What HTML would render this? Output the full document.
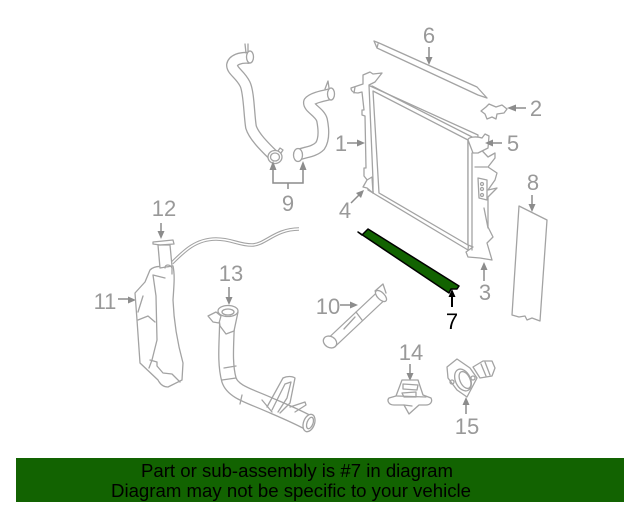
<!DOCTYPE html>
<html><head><meta charset="utf-8"><style>
html,body{margin:0;padding:0;background:#fff;width:640px;height:512px;overflow:hidden}
svg{display:block}
text{font-family:"Liberation Sans",sans-serif}
.l{fill:#999;font-size:22px;text-anchor:middle}
.g{fill:none;stroke:#a3a3a3;stroke-width:1.3;stroke-linejoin:round;stroke-linecap:round}
.f{fill:#fff;stroke:#a3a3a3;stroke-width:1.3;stroke-linejoin:round;stroke-linecap:round}
.a{fill:none;stroke:#8c8c8c;stroke-width:1.5}
.h{fill:#8c8c8c}
.ho{fill:none;stroke:#a3a3a3;stroke-linejoin:round;stroke-linecap:butt}
.hi{fill:none;stroke:#fff;stroke-linejoin:round;stroke-linecap:butt}
</style></head><body>
<svg width="640" height="512" viewBox="0 0 640 512" xmlns="http://www.w3.org/2000/svg">
<rect width="640" height="512" fill="#fff"/>

<!-- hoses 9 -->
<path class="ho" stroke-width="12" d="M250 58C240 57 233 60 232 65C232 71 240 74 245 84C249 92 249 115 251 127C254 137 267 149 275 157"/>
<path class="hi" stroke-width="9.4" d="M250 58C240 57 233 60 232 65C232 71 240 74 245 84C249 92 249 115 251 127C254 137 267 149 275 157"/>
<path class="g" d="M245 44L246 53M248 44L248 52"/>
<ellipse class="f" cx="250" cy="57" rx="3.5" ry="6"/>
<ellipse class="f" cx="275" cy="157" rx="7" ry="6.5"/>
<ellipse class="g" cx="275" cy="157" rx="4.5" ry="4"/>
<path class="g" d="M278 151L280 148L283 150L281 153"/>
<path class="ho" stroke-width="12" d="M331 94C322 96 312 98 309 102C308 108 320 112 322 120C324 130 324 140 320 146C314 152 305 152 298 155"/>
<path class="hi" stroke-width="9.4" d="M331 94C322 96 312 98 309 102C308 108 320 112 322 120C324 130 324 140 320 146C314 152 305 152 298 155"/>
<path class="g" d="M325 89L328 81L329 88"/>
<ellipse class="f" cx="331" cy="94" rx="3.5" ry="6"/>
<ellipse class="f" cx="298" cy="155" rx="4.5" ry="6.5"/>
<path class="a" d="M273 168V183H303V168M288 183V189"/>
<path class="h" d="M273 161L276.5 170H269.5ZM303 161L306.5 170H299.5Z"/>
<text class="l" x="288" y="211">9</text>

<!-- strip 6 -->
<path class="g" d="M374 41L379 43L477 87L487 98M374 41L377 48L478 95L487 98M378 44L377 48"/>
<path class="a" d="M429 47V60"/><path class="h" d="M429 65L425.5 57H432.5Z"/>
<text class="l" x="429" y="43">6</text>

<!-- radiator -->
<path class="f" d="M368 85L478 135L468 250L373 193Z"/>
<path class="g" d="M372 86L478 140M373 91L468 140L468 245L379 193Z"/>
<path class="g" d="M368 85L373 193"/>
<path class="f" d="M351 88C351 92 355 93 358 93L362 92L364 110H362V115L365 116L366 168L364 168V176L368 181V190L373 193L373 180L369 85L375 82L382 73L373 74L370 72L363 75L363 84Z"/>
<path class="g" d="M355 87L354 93"/>
<path class="f" d="M363 187L367 180L372 177L373 193L367 188Z"/>
<path class="f" d="M468 140L472 140L488 157L495 153L495 158L488 167L497 173L495 180L488 190L497 188L488 197V227L493 237L487 243L492 260L480 258L468 257L466 252L473 247L468 245Z"/>
<path class="f" d="M468 140C468 137 476 136 482 138L485 134L489 136L488 148L484 150L478 153L473 153Z"/>
<path class="f" d="M478 178L487 180L487 200L479 198Z"/>
<circle class="g" cx="482" cy="184" r="1.500"/><circle class="g" cx="482" cy="189" r="1.500"/><circle class="g" cx="482" cy="195" r="1.500"/>
<path class="g" d="M472 153V250M475 167H487M484 208L488 228"/>

<!-- green strip 7 -->
<path d="M358 232L362 235L368 229L459 286L457 289L451 289L449 293Z" fill="#126301" stroke="#000" stroke-width="1.500" stroke-linejoin="round"/>
<path d="M452 293V307" stroke="#000" stroke-width="2" fill="none"/>
<path d="M452 289L455.500 297H448.500Z" fill="#000"/>
<text x="452" y="329" font-size="22" fill="#000" text-anchor="middle">7</text>

<!-- bracket 2 -->
<path class="f" d="M481 111L486 107L489 104L496 107L502 105L507 109L504 113L497 114L496 119L492 117L487 119L485 114Z"/>
<path class="a" d="M514 108H526"/><path class="h" d="M507 108L516 104.500V111.500Z"/>
<text class="l" x="536" y="116">2</text>

<!-- 1,3,4,5,8 labels -->
<text class="l" x="341" y="151">1</text>
<path class="a" d="M347 143H360"/><path class="h" d="M365 143L357 139.500V146.500Z"/>
<text class="l" x="345" y="218">4</text>
<path class="a" d="M351 203L361 193"/><path class="h" d="M364 190L361 198L356 193Z"/>
<text class="l" x="485" y="300">3</text>
<path class="a" d="M484 281V268"/><path class="h" d="M484 262L487.500 270H480.500Z"/>
<text class="l" x="513" y="151">5</text>
<path class="a" d="M502 143H491"/><path class="h" d="M485 143L493 139.500V146.500Z"/>
<text class="l" x="533" y="190">8</text>
<path class="a" d="M532 195V206"/><path class="h" d="M532 212L528.500 204H535.500Z"/>

<!-- panel 8 -->
<path class="f" d="M519 206L547 220L540 321L532 318L527 320L525 316L519 317L512 315Z"/>

<!-- 12, 11 reservoir -->
<text class="l" x="164" y="216">12</text>
<path class="a" d="M161 223V234"/><path class="h" d="M161 239L157.500 231H164.500Z"/>
<text class="l" x="105" y="309">11</text>
<path class="a" d="M118 299H131"/><path class="h" d="M136 300L128 296.500V303.500Z"/>
<path class="ho" stroke-width="3.600" d="M172 263C184 251 196 239 216 239C232 239 238 245 252 245C265 245 275 229 299 229"/>
<path class="hi" stroke-width="1.400" d="M172 263C184 251 196 239 216 239C232 239 238 245 252 245C265 245 275 229 299 229"/>
<path class="f" d="M135 293L145 282L150 270C154 266 160 266 165 267L173 266C175 275 174 285 173 300C174 325 178 345 183 363L182 380L168 387C163 387 160 384 158 380L140 363L137 320Z"/>
<path class="f" d="M158 245L170 245L172 266L160 268Z"/>
<path class="g" d="M153 242L173 240L174 244L160 245L153 244ZM165 268C165 264 170 264 172 268L172 274M153 275L156 296L157 340L152 360L149 368M150 360L157 362L157 366L163 373L172 374L180 382M138 320L148 316L155 322M153 275L165 278M143 296L138 312"/>

<!-- 13 pipe -->
<text class="l" x="231" y="281">13</text>
<path class="a" d="M229 287V300"/><path class="h" d="M229 305L225.500 297H232.500Z"/>
<path class="ho" stroke-width="16" d="M227 320C227 340 224 362 229 380C233 392 250 396 270 405C284 411 296 416 309 423"/>
<path class="hi" stroke-width="13.400" d="M227 320C227 340 224 362 229 380C233 392 250 396 270 405C284 411 296 416 309 423"/>
<path class="f" d="M218 312L220 326L226 334L234 331L238 312Z"/>
<ellipse class="f" cx="228" cy="311" rx="10" ry="5.500"/>
<ellipse class="g" cx="228" cy="312" rx="6" ry="3"/>
<path class="f" d="M208 316L216 312L221 316L219 323L213 322Z"/>
<path class="g" d="M224 368L236 366M242 395L240 404M262 400L272 412M222 380L236 378"/>
<path class="g" d="M267 407L283 378C287 376 292 376 295 378L290 403L280 413M272 410L285 384L291 382L287 398L278 412"/>
<path class="g" d="M290 407L305 402L306 405L295 412"/>
<ellipse class="f" cx="309" cy="423" rx="5.500" ry="9" transform="rotate(20 309 423)"/>
<ellipse class="g" cx="310" cy="423" rx="3" ry="6" transform="rotate(20 310 423)"/>

<!-- 10 tube -->
<text class="l" x="328" y="314">10</text>
<path class="a" d="M340 305H352"/><path class="h" d="M358 305L350 301.500V308.500Z"/>
<path class="ho" stroke-width="12" d="M331 343L381 296"/>
<path class="hi" stroke-width="9.600" d="M331 343L381 296"/>
<ellipse class="f" cx="381" cy="296" rx="3.500" ry="7" transform="rotate(-135 381 296) rotate(90 381 296)"/>
<path class="g" d="M375 291L383 284L386 293M356 312L362 320M355 317L344 329"/>
<ellipse class="f" cx="330" cy="342" rx="7" ry="5.500" transform="rotate(30 330 342)"/>

<!-- 14 clip -->
<text class="l" x="411" y="360">14</text>
<path class="a" d="M410 364V376"/><path class="h" d="M410 381L406.500 373H413.500Z"/>
<path class="f" d="M402 380L418 380L423 395L431 398C433 402 430 405 426 405L419 405L409 414L404 405L394 405C388 405 387 400 389 398L396 396Z"/>
<path class="g" d="M403 384L418 385L417 390L403 389ZM402 393L416 392L416 397L404 397ZM397 396L426 397M404 405L412 406"/>

<!-- 15 housing -->
<text class="l" x="467" y="434">15</text>
<path class="a" d="M466 414V402"/><path class="h" d="M466 397L469.500 405H462.500Z"/>
<path class="f" d="M473 367L483 361H492L495 368L492 376L480 378Z"/>
<path class="g" d="M481 364L486 376M485 362L490 375"/>
<path class="f" d="M447 367L457 359L470 368L477 378L467 397L457 390L448 378Z"/>
<ellipse class="g" cx="463" cy="380" rx="7.500" ry="11.500" transform="rotate(-25 463 380)"/>
<ellipse class="g" cx="465" cy="380" rx="5" ry="9" transform="rotate(-25 465 380)"/>
<circle class="g" cx="452" cy="382" r="2"/><circle class="g" cx="473" cy="378" r="2"/>

<!-- banner -->
<rect x="16" y="458" width="608" height="44" fill="#126301"/>
<text x="141" y="477" font-size="18" fill="#000" textLength="312" lengthAdjust="spacingAndGlyphs">Part or sub-assembly is #7 in diagram</text>
<text x="111" y="497" font-size="18" fill="#000" textLength="360" lengthAdjust="spacingAndGlyphs">Diagram may not be specific to your vehicle</text>
</svg>
</body></html>
